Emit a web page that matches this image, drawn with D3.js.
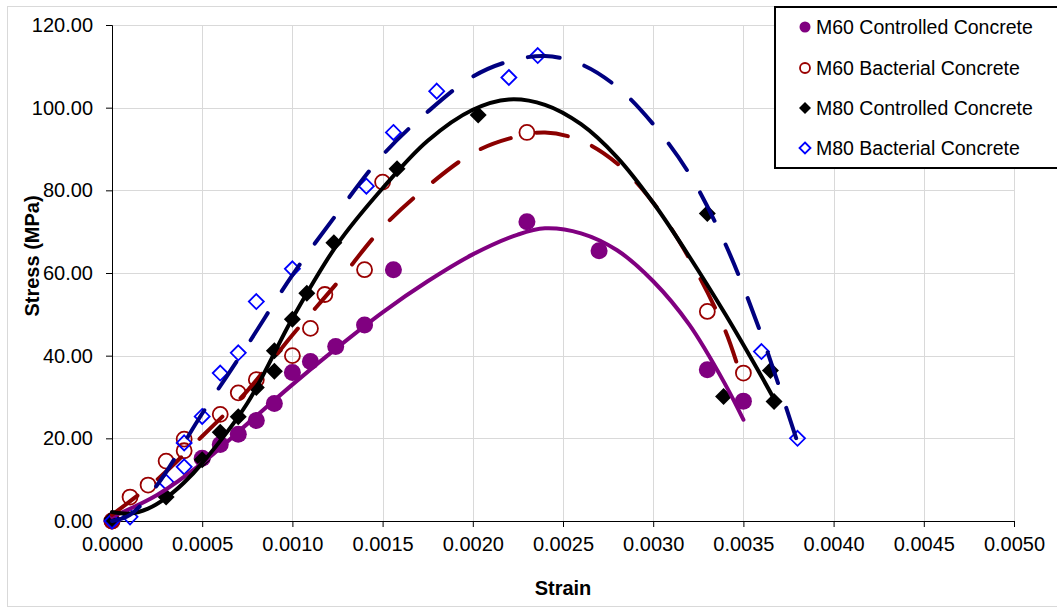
<!DOCTYPE html>
<html>
<head>
<meta charset="utf-8">
<script src="https://cdnjs.cloudflare.com/ajax/libs/d3/7.8.5/d3.min.js"></script>
<style>
body { margin: 0; background: #fff; }
text { font-family: "Liberation Sans", Arial, sans-serif; }
</style>
</head>
<body>
<svg id="chart" width="1057" height="612"></svg>
<script>
// measured points
var seriesNames = ["M60 Controlled Concrete", "M60 Bacterial Concrete", "M80 Controlled Concrete", "M80 Bacterial Concrete"]

var m60cStrain = [0, 0.0005, 0.0006, 0.0007, 0.0008, 0.0009, 0.0010, 0.0011, 0.00124, 0.0014, 0.00156, 0.0023, 0.0027, 0.0033, 0.0035]
var m60cStress = [0, 15.2, 18.5, 21, 24.3, 28.4, 35.9, 38.6, 42.2, 47.4, 60.8, 72.4, 65.4, 36.6, 29.0]

var m60bStrain = [0, 0.0001, 0.0002, 0.0003, 0.0004, 0.0004, 0.0006, 0.0007, 0.0008, 0.0010, 0.0011, 0.00118, 0.0014, 0.0015, 0.0023, 0.0033, 0.0035]
var m60bStress = [0, 5.8, 8.7, 14.5, 17, 19.8, 25.8, 31, 34.2, 40, 46.6, 54.8, 60.8, 82, 94, 50.7, 35.8]

var m80cStrain = [0, 0.0003, 0.0005, 0.0006, 0.0007, 0.0008, 0.0009, 0.0009, 0.0010, 0.00108, 0.00123, 0.00158, 0.00203, 0.0033, 0.00339, 0.00365, 0.00367]
var m80cStress = [0.5, 5.8, 14.8, 21.5, 25.2, 32.3, 36.2, 41.2, 48.8, 55.1, 67.3, 85.2, 98.2, 74.4, 30.1, 36.4, 28.9]

var m80bStrain = [0, 0.0001, 0.0003, 0.0004, 0.0004, 0.0005, 0.0006, 0.0007, 0.0008, 0.0010, 0.00141, 0.00156, 0.0018, 0.0022, 0.00236, 0.0036, 0.0038]
var m80bStress = [0, 1, 9.4, 13.1, 18.9, 25.3, 35.8, 40.7, 53.1, 61, 81, 94, 104, 107.3, 112.6, 41, 20]

// trend lines
var m60cTrendStrain = [0, 0.00025, 0.0005, 0.00075, 0.001, 0.00125, 0.0015, 0.00175, 0.002, 0.00225, 0.0024, 0.0026, 0.0028, 0.003, 0.0032, 0.0034, 0.0035]
var m60cTrendStress = [1, 6.3, 14, 23.5, 33, 42, 50.5, 58, 64.5, 69.3, 70.8, 69.6, 65.5, 58, 47.5, 33, 24.5]

var m60bTrendStrain = [0, 0.00025, 0.0005, 0.00075, 0.001, 0.00125, 0.0015, 0.00175, 0.002, 0.0022, 0.0024, 0.0026, 0.0028, 0.003, 0.0032, 0.0034, 0.0035]
var m60bTrendStress = [1.5, 10, 20.5, 31.5, 45, 57.7, 71, 81, 89, 92.5, 94, 92, 86.5, 77, 63.5, 46, 33]

var m80cTrendStrain = [0, 0.0001, 0.0002, 0.0003, 0.0004, 0.0005, 0.00075, 0.001, 0.00125, 0.0015, 0.00175, 0.002, 0.0022, 0.0024, 0.0026, 0.0028, 0.003, 0.0032, 0.0034, 0.0036, 0.00367]
var m80cTrendStress = [2.2, 1.8, 3, 5.6, 9.3, 14, 28.5, 49, 67, 80.5, 92, 99.5, 102, 100.7, 96, 88, 77, 64, 50, 35, 29.5]

var m80bTrendStrain = [0, 0.0001, 0.00025, 0.0005, 0.00075, 0.001, 0.00125, 0.0015, 0.00175, 0.002, 0.0022, 0.0024, 0.0026, 0.0028, 0.003, 0.0032, 0.0034, 0.0036, 0.0038]
var m80bTrendStress = [0, 1.5, 8.7, 26, 42.5, 59.5, 74.5, 88.5, 99, 107.5, 111.2, 112.5, 110.5, 105, 96, 84, 67, 45, 19]

var xTicks = [0, 0.0005, 0.001, 0.0015, 0.002, 0.0025, 0.003, 0.0035, 0.004, 0.0045, 0.005]
var yTicks = [0, 20, 40, 60, 80, 100, 120]

var svg = d3.select("#chart")

// chart frame
svg.append("rect").attr("x", 7.5).attr("y", 6.5).attr("width", 1070).attr("height", 600)
    .attr("fill", "#fff").attr("stroke", "#d9d9d9")

var plotLeft = 112, plotRight = 1014, plotTop = 25, plotBottom = 521
var x = d3.scaleLinear().domain([0, 0.005]).range([plotLeft, plotRight])
var y = d3.scaleLinear().domain([0, 120]).range([plotBottom, plotTop])

// grid
svg.append("g").selectAll("line").data(xTicks.slice(1)).enter().append("line")
    .attr("x1", function(d){ return Math.round(x(d)) + 0.5 }).attr("x2", function(d){ return Math.round(x(d)) + 0.5 })
    .attr("y1", plotTop).attr("y2", plotBottom).attr("stroke", "#d9d9d9")
svg.append("g").selectAll("line").data(yTicks.slice(1)).enter().append("line")
    .attr("y1", function(d){ return Math.round(y(d)) + 0.5 }).attr("y2", function(d){ return Math.round(y(d)) + 0.5 })
    .attr("x1", plotLeft).attr("x2", plotRight).attr("stroke", "#d9d9d9")

// axes
var xAxis = d3.axisBottom(x).tickValues(xTicks).tickFormat(d3.format(".4f")).tickSizeOuter(0).tickSize(6).tickPadding(10)
var yAxis = d3.axisLeft(y).tickValues(yTicks).tickFormat(d3.format(".2f")).tickSizeOuter(0).tickSize(6).tickPadding(13)

var gx = svg.append("g").attr("transform", "translate(0," + plotBottom + ")").call(xAxis)
var gy = svg.append("g").attr("transform", "translate(" + plotLeft + ",0)").call(yAxis)
gx.selectAll("text").attr("font-size", "20px").attr("fill", "#000").style("font-family", "'Liberation Sans', Arial, sans-serif")
gy.selectAll("text").attr("font-size", "20px").attr("fill", "#000").style("font-family", "'Liberation Sans', Arial, sans-serif")
gx.selectAll("line, path").attr("stroke", "#000")
gy.selectAll("line, path").attr("stroke", "#000")

svg.append("text").attr("x", 563).attr("y", 595).attr("text-anchor", "middle")
    .attr("font-size", "20px").attr("font-weight", "bold").text("Strain")
svg.append("text").attr("transform", "translate(39,256) rotate(-90)").attr("text-anchor", "middle")
    .attr("font-size", "20px").attr("font-weight", "bold").text("Stress (MPa)")

function pts(xs, ys){
    return xs.map(function(d, i){ return [d, ys[i]] })
}

function diamond(r){
    return "M0," + (-r) + "L" + r + ",0L0," + r + "L" + (-r) + ",0Z"
}

// markers
var plot = svg.append("g")
plot.selectAll(".m60c").data(pts(m60cStrain, m60cStress)).enter().append("circle")
    .attr("cx", function(d){ return x(d[0]) }).attr("cy", function(d){ return y(d[1]) })
    .attr("r", 8.5).attr("fill", "#800080")
plot.selectAll(".m60b").data(pts(m60bStrain, m60bStress)).enter().append("circle")
    .attr("cx", function(d){ return x(d[0]) }).attr("cy", function(d){ return y(d[1]) })
    .attr("r", 7.5).attr("fill", "none").attr("stroke", "#990000").attr("stroke-width", 1.8)
plot.selectAll(".m80c").data(pts(m80cStrain, m80cStress)).enter().append("path")
    .attr("transform", function(d){ return "translate(" + x(d[0]) + "," + y(d[1]) + ")" })
    .attr("d", diamond(8.5)).attr("fill", "#000")
plot.selectAll(".m80b").data(pts(m80bStrain, m80bStress)).enter().append("path")
    .attr("transform", function(d){ return "translate(" + x(d[0]) + "," + y(d[1]) + ")" })
    .attr("d", diamond(7.5)).attr("fill", "none").attr("stroke", "#0000ff").attr("stroke-width", 1.8)

// trend lines
var line = d3.line().x(function(d){ return x(d[0]) }).y(function(d){ return y(d[1]) }).curve(d3.curveCatmullRom.alpha(0.5))
var trends = [
    {p: pts(m60cTrendStrain, m60cTrendStress), c: "#800080", dash: null},
    {p: pts(m60bTrendStrain, m60bTrendStress), c: "#8b0000", dash: "32,26"},
    {p: pts(m80cTrendStrain, m80cTrendStress), c: "#000", dash: null},
    {p: pts(m80bTrendStrain, m80bTrendStress), c: "#000080", dash: "32,26"}
]
plot.selectAll(".trend").data(trends).enter().append("path")
    .attr("d", function(d){ return line(d.p) }).attr("fill", "none")
    .attr("stroke", function(d){ return d.c }).attr("stroke-width", 4)
    .attr("stroke-linecap", "round")
    .attr("stroke-dasharray", function(d){ return d.dash })

// legend
var lg = svg.append("g")
lg.append("rect").attr("x", 775).attr("y", 7).attr("width", 300).attr("height", 161)
    .attr("fill", "#fff").attr("stroke", "#000").attr("stroke-width", 2)
var rowsY = [27, 68, 108, 148]
lg.selectAll("text").data(seriesNames).enter().append("text")
    .attr("x", 816).attr("y", function(d, i){ return rowsY[i] }).attr("dy", "0.35em")
    .attr("font-size", "19.5px").text(function(d){ return d })
lg.append("circle").attr("cx", 805).attr("cy", rowsY[0]).attr("r", 5.5).attr("fill", "#800080")
lg.append("circle").attr("cx", 805).attr("cy", rowsY[1]).attr("r", 5).attr("fill", "none").attr("stroke", "#990000").attr("stroke-width", 1.8)
lg.append("path").attr("transform", "translate(805," + rowsY[2] + ")").attr("d", diamond(6)).attr("fill", "#000")
lg.append("path").attr("transform", "translate(805," + rowsY[3] + ")").attr("d", diamond(5.5)).attr("fill", "none").attr("stroke", "#0000ff").attr("stroke-width", 1.8)
</script>
</body>
</html>
